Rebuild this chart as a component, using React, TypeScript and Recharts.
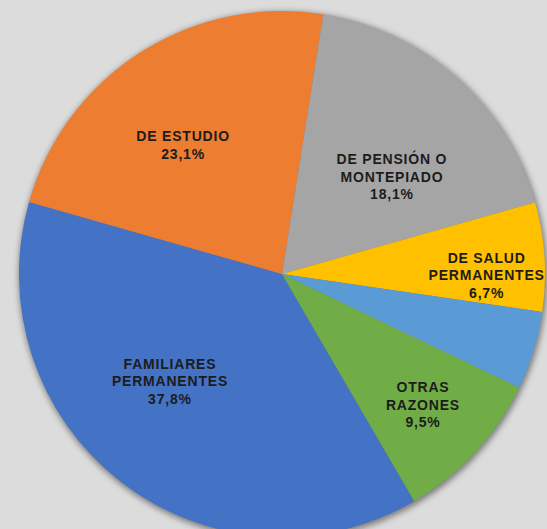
import { Cell, Pie, PieChart } from "recharts";

const BG = "#dcdcdc";
const TEXT = "#1c1c1c";

// categories, one entry per line of the label (the light blue slice has no label)
const CATEGORY_LINES: string[][] = [
  ["FAMILIARES", "PERMANENTES"],
  ["DE ESTUDIO"],
  ["DE PENSIÓN O", "MONTEPIADO"],
  ["DE SALUD", "PERMANENTES"],
  [],
  ["OTRAS", "RAZONES"],
];
const PERCENTS = [37.8, 23.1, 18.1, 6.7, 4.8, 9.5];
const COLORS = ["#4472C4", "#ED7D31", "#A5A5A5", "#FFC000", "#5B9BD5", "#70AD47"];

// label block centres, as fractions of the radius from the pie centre
const LABEL_OFFSETS: [number, number][] = [
  [-0.426, 0.407],
  [-0.376, -0.49],
  [0.418, -0.369],
  [0.778, 0.004],
  [0, 0],
  [0.536, 0.498],
];

const data = PERCENTS.map((value, i) => ({
  name: CATEGORY_LINES[i].join(" "),
  value,
}));

const total = [{ name: "total", value: 100 }];

const LINE_H = 17.5;

const renderLabel = (props: any) => {
  const { cx, cy, outerRadius, index, value } = props;
  const lines = CATEGORY_LINES[index];
  if (!lines.length) return null;
  const all = [...lines, value.toFixed(1).replace(".", ",") + "%"];
  const [fx, fy] = LABEL_OFFSETS[index];
  const x = cx + fx * outerRadius;
  const y = cy + fy * outerRadius;
  return (
    <text
      x={x}
      y={y}
      textAnchor="middle"
      fill={TEXT}
      fontSize={14}
      fontWeight="bold"
      letterSpacing={0.8}
      fontFamily="'Liberation Sans', Arial, sans-serif"
    >
      {all.map((t, i) => (
        <tspan key={i} x={x} y={y + (i - (all.length - 1) / 2) * LINE_H + 5}>
          {t}
        </tspan>
      ))}
    </text>
  );
};

export default function App() {
  return (
    <div
      style={{
        position: "absolute",
        left: 0,
        top: 0,
        width: 547,
        height: 529,
        background: BG,
        overflow: "hidden",
      }}
    >
      <svg width={0} height={0} style={{ position: "absolute" }}>
        <defs>
          <filter id="pieShadow" x="-20%" y="-20%" width="140%" height="140%">
            <feGaussianBlur stdDeviation={3} />
          </filter>
        </defs>
      </svg>
      <PieChart width={547} height={529} margin={{ top: 0, right: 0, bottom: 0, left: 0 }}>
        <Pie
          data={total}
          dataKey="value"
          cx={283}
          cy={276}
          outerRadius={264}
          stroke="none"
          isAnimationActive={false}
          label={false}
          labelLine={false}
        >
          <Cell fill="rgba(0,0,0,0.45)" filter="url(#pieShadow)" />
        </Pie>
        <Pie
          data={data}
          dataKey="value"
          cx={282}
          cy={274}
          outerRadius={263}
          startAngle={-59.8}
          endAngle={-419.8}
          stroke="none"
          isAnimationActive={false}
          label={renderLabel}
          labelLine={false}
        >
          {data.map((d, i) => (
            <Cell key={d.name + i} fill={COLORS[i]} />
          ))}
        </Pie>
      </PieChart>
    </div>
  );
}
